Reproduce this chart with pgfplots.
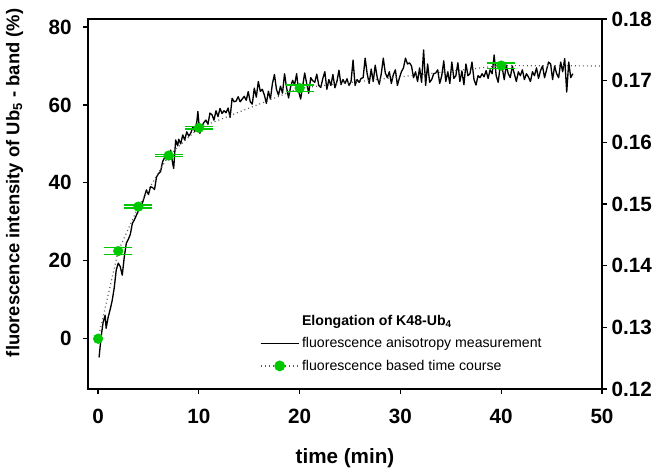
\documentclass[border=0pt]{standalone}
\usepackage{pgfplots}
\pgfplotsset{compat=1.18}
\usepackage{fontspec}
\setmainfont{Liberation Sans}
\definecolor{ptgreen}{RGB}{0,200,0}
\definecolor{dotgray}{RGB}{90,90,90}
\pgfplotstableread{
t L
0.1 -4.8
0.3 0.5
0.5 4.2
0.7 6.0
0.8 2.7
1.0 5.5
1.2 7.5
1.4 9.8
1.6 13
1.8 17.6
2.0 19.4
2.2 18.5
2.4 16.3
2.6 21
2.8 24.5
3.0 25.5
3.2 26.8
3.4 29.6
3.6 30.5
3.8 31.7
4.0 32.8
4.2 33.5
4.4 34.8
4.6 36.5
4.8 38.2
5.0 37.0
5.2 39.0
5.4 38.8
5.6 38.3
5.8 41.5
6.0 42.4
6.2 42.9
6.4 45.4
6.6 46.5
6.8 47.6
7.0 46.2
7.2 48.4
7.4 45.0
7.5 43.7
7.7 51.0
7.9 49.5
8.0 51.2
8.2 50.0
8.4 52.3
8.6 51.0
8.8 53.1
9.0 52.0
9.2 52.8
9.4 54.3
9.6 53.2
9.8 55.7
9.9 58.3
10.1 52.7
10.3 54.5
10.5 55.5
10.7 56.1
10.9 55.0
11.1 57.9
11.3 57.5
11.5 56.1
11.7 58.5
11.9 57.0
12.1 59.1
12.3 57.8
12.5 58.5
12.7 58.0
12.9 59.2
13.1 56.8
13.3 61.7
13.5 60.8
13.7 61.0
13.9 62.1
14.1 60.8
14.3 61.5
14.5 62.2
14.7 61.2
14.9 63.4
15.1 60.8
15.3 60.2
15.5 64.3
15.7 62.0
15.9 66.0
16.1 63.5
16.3 64.0
16.5 62.5
16.7 60.4
16.9 63.5
17.1 61.5
17.3 65.5
17.5 67.8
17.7 64.0
17.9 62.5
18.1 64.8
18.3 63.0
18.5 68.0
18.7 64.5
18.9 61.8
19.1 64.6
19.3 66.3
19.5 65.2
19.7 68.0
19.9 63.5
20.1 61.5
20.3 64.8
20.5 68.2
20.7 65.5
20.9 63.0
21.1 67.0
21.3 66.2
21.5 65.8
21.7 67.9
21.9 65.0
22.1 64.5
22.3 66.8
22.5 68.5
22.7 64.0
22.9 66.5
23.1 65.0
23.3 67.8
23.5 64.4
23.7 66.0
23.9 68.9
24.1 65.2
24.3 66.5
24.5 65.5
24.7 66.7
24.9 65.0
25.1 66.0
25.3 71.5
25.5 65.0
25.7 66.5
25.9 65.8
26.1 66.8
26.3 67.0
26.5 72.0
26.7 68.0
26.9 65.5
27.1 69.2
27.3 66.0
27.5 70.2
27.7 67.0
27.9 65.3
28.1 68.0
28.3 72.0
28.5 68.2
28.7 67.0
28.9 68.5
29.1 65.5
29.3 67.8
29.5 69.0
29.7 65.0
29.9 67.0
30.1 68.5
30.3 69.5
30.5 72.0
30.7 70.5
30.9 70.8
31.1 70.0
31.3 67.0
31.5 68.5
31.7 66.0
31.9 69.5
32.1 65.8
32.3 74.1
32.5 65.0
32.7 70.5
32.9 65.8
33.1 66.5
33.3 68.0
33.5 68.2
33.7 69.0
33.9 65.5
34.1 67.5
34.3 71.3
34.5 66.0
34.7 68.5
34.9 65.5
35.1 71.0
35.3 66.8
35.5 67.5
35.7 70.8
35.9 66.0
36.1 68.7
36.3 65.2
36.5 70.5
36.7 67.5
36.9 68.0
37.1 71.0
37.3 66.5
37.5 65.1
37.7 67.5
37.9 67.0
38.1 68.0
38.3 67.2
38.5 68.8
38.7 66.8
38.9 69.0
39.1 68.0
39.3 72.8
39.5 67.5
39.7 65.8
39.9 70.0
40.1 69.5
40.3 66.5
40.5 70.2
40.7 68.0
40.9 67.0
41.1 70.0
41.3 68.0
41.5 66.0
41.7 68.5
41.9 67.5
42.1 69.0
42.3 66.5
42.5 68.0
42.7 67.2
42.9 66.0
43.1 68.5
43.3 67.5
43.5 69.5
43.7 66.8
43.9 68.8
44.1 70.0
44.3 67.0
44.5 69.0
44.7 71.0
44.9 70.5
45.1 66.5
45.3 70.0
45.5 68.0
45.7 67.0
45.9 71.0
46.1 68.5
46.3 71.9
46.5 63.3
46.7 71.0
46.9 67.0
47.1 68.0
}\aniso
\pgfplotstableread{
t F e
2 22.5 0.9
4 33.9 0.4
7 47.0 0.3
10 54.1 0.3
20 64.3 0.85
40 70.1 0.7
}\fluor
\pgfplotstableread{
t F
0 0
2 22.5
4 33.9
7 47.0
10 54.1
20 64.3
40 70.1
50 70.0
}\fluorline
\begin{document}
\begin{tikzpicture}
\useasboundingbox (0,0) rectangle (503.25pt,354pt);
\begin{axis}[
  at={(66pt,62.25pt)}, anchor=south west,
  scale only axis, width=385.5pt, height=277.5pt,
  xmin=-1, xmax=50, ymin=-12.9, ymax=82.05,
  xtick={0,10,...,50}, ytick={0,20,...,80},
  xtick pos=bottom, ytick pos=left,
  tick align=outside, major tick length=3.75pt,
  axis line style={line width=0.9pt}, every tick/.style={line width=0.9pt, black},
  /pgf/number format/assume math mode=true,
  tick label style={font=\fontsize{15.5}{18}\selectfont\bfseries},
  yticklabel style={xshift=-5pt},
  xticklabel style={yshift=-8pt},
  xlabel={time (min)},
  ylabel={fluorescence intensity of Ub\textsubscript{5} - band (\%)},
  xlabel style={font=\fontsize{15.5}{18}\selectfont\bfseries, at={(axis description cs:0.5,-0.186)}, anchor=center},
  ylabel style={font=\fontsize{13.8}{16}\selectfont\bfseries, at={(axis description cs:-0.143,0.557)}, anchor=center},
  legend style={at={(axis cs:44.3,-9.3)}, anchor=south east, draw=none, fill=none,
    font=\fontsize{10.6}{12.5}\selectfont, row sep=3.5pt, inner sep=0pt},
  legend cell align=left,
  legend image code/.code={\draw[mark repeat=2,mark phase=2,#1] plot coordinates {(0cm,0cm) (0.5cm,0cm) (1cm,0cm)};},
]
\addlegendimage{empty legend}
\addlegendentry{\textbf{Elongation of K48-Ub\textsubscript{4}}}
\addplot[black, line width=1pt, line join=round] table[x=t, y=L] {\aniso};
\addlegendentry{fluorescence anisotropy measurement}
\addplot[dotgray, line width=0.9pt, dash pattern=on 0.75pt off 2.25pt, forget plot] table[x=t, y=F] {\fluorline};
\addplot[only marks, mark=*, mark size=3.6pt, ptgreen, mark options={solid, fill=ptgreen, draw=ptgreen}, forget plot,
  error bars/.cd, y dir=both, y explicit,
  error bar style={ptgreen, line width=1.1pt},
  error mark options={ptgreen, rotate=90, line width=1.1pt, mark size=10.5pt}]
  table[x=t, y=F, y error=e] {\fluor};
\addplot[only marks, mark=*, mark size=3.6pt, mark options={solid, fill=ptgreen, draw=ptgreen}, forget plot]
  coordinates {(0,0)};
\addlegendimage{dotgray, line width=0.9pt, dash pattern=on 0.75pt off 2.25pt, mark=*, mark size=3.6pt, mark options={solid, fill=ptgreen, draw=ptgreen}}
\addlegendentry{fluorescence based time course}
\end{axis}
\begin{axis}[
  at={(66pt,62.25pt)}, anchor=south west,
  scale only axis, width=385.5pt, height=277.5pt,
  xmin=-1, xmax=50, ymin=0.12, ymax=0.18,
  axis x line=none, axis y line*=right,
  ytick={0.12,0.13,0.14,0.15,0.16,0.17,0.18},
  tick align=outside, major tick length=3.75pt,
  axis line style={line width=0.9pt, -}, every tick/.style={line width=0.9pt, black},
  /pgf/number format/assume math mode=true,
  yticklabel style={font=\fontsize{15.5}{18}\selectfont\bfseries, /pgf/number format/fixed, /pgf/number format/precision=2, /pgf/number format/fixed zerofill},
]
\end{axis}
\end{tikzpicture}
\end{document}
